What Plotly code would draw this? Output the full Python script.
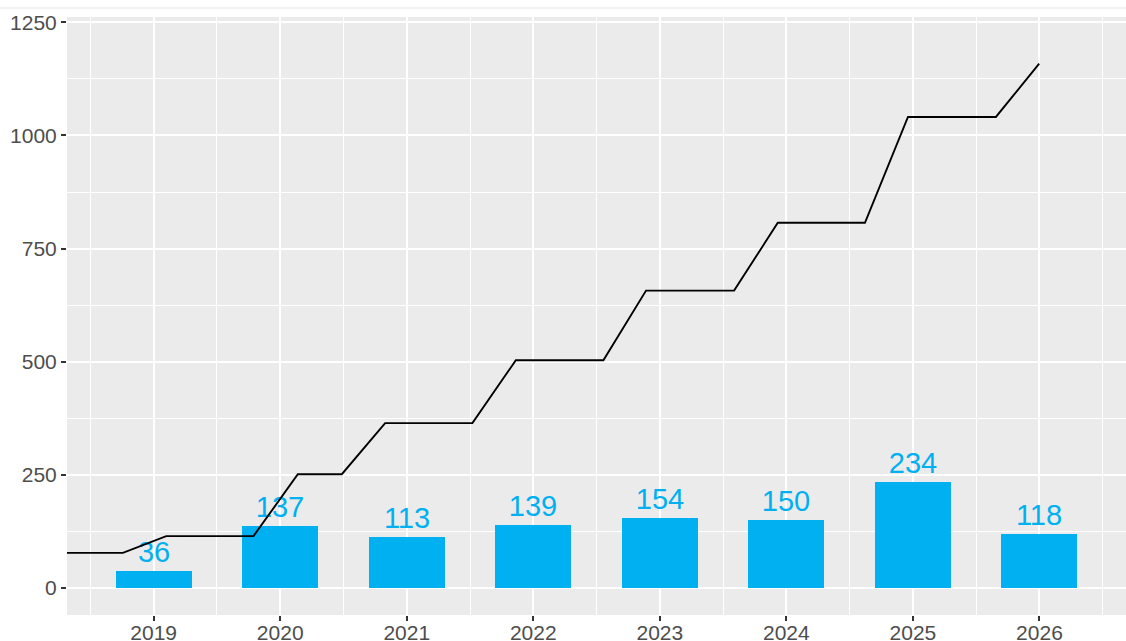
import plotly.graph_objects as go

# ---- data ----
years = [2019, 2020, 2021, 2022, 2023, 2024, 2025, 2026]
counts = [36, 137, 113, 139, 154, 150, 234, 118]

cum_x = [2018.315, 2018.757, 2019.099, 2019.789, 2020.139, 2020.487, 2020.829,
         2021.519, 2021.862, 2022.554, 2022.891, 2023.587, 2023.932, 2024.621,
         2024.961, 2025.656, 2025.998]
cum_y = [77, 77, 114, 114, 251, 251, 364, 364, 503, 503, 657, 657, 807, 807,
         1041, 1041, 1159]

y_ticks = [0, 250, 500, 750, 1000, 1250]
x_ticks = years

BAR_COLOR = "#00B0F0"
FONT = "Liberation Sans, Arial, Helvetica, sans-serif"

fig = go.Figure()

fig.add_trace(go.Bar(
    x=years, y=counts, width=0.6,
    marker=dict(color=BAR_COLOR, line=dict(width=0)),
    text=[str(v) for v in counts], textposition="outside",
    textfont=dict(family=FONT, size=29, color=BAR_COLOR),
    cliponaxis=False, showlegend=False, hoverinfo="skip",
))

fig.add_trace(go.Scatter(
    x=cum_x, y=cum_y, mode="lines",
    line=dict(color="black", width=1.9),
    showlegend=False, hoverinfo="skip",
))

fig.update_layout(
    width=1126, height=641,
    margin=dict(l=67, r=0, t=17, b=26, autoexpand=False),
    paper_bgcolor="white", plot_bgcolor="#EBEBEB",
    font=dict(family=FONT, size=21, color="#4D4D4D"),
    bargap=0,
    shapes=[dict(type="line", xref="paper", yref="paper",
                 x0=-0.07, x1=1.0, y0=1 + 9 / 598, y1=1 + 9 / 598,
                 line=dict(color="#E4E4E4", width=1))],
)

fig.update_xaxes(
    range=[2018.315, 2026.684], automargin=False,
    tickmode="array", tickvals=x_ticks, ticktext=[str(y) for y in x_ticks],
    ticks="outside", ticklen=5, tickwidth=1.5, tickcolor="#333333",
    ticklabelstandoff=-6,
    showgrid=True, gridcolor="white", gridwidth=1.6,
    minor=dict(tickmode="array", tickvals=[y - 0.5 for y in years] + [2026.5],
               showgrid=True, gridcolor="white", gridwidth=0.8),
    zeroline=False, showline=False,
    tickfont=dict(family=FONT, size=21, color="#4D4D4D"),
)

fig.update_yaxes(
    range=[-60.4, 1262], automargin=False,
    tickmode="array", tickvals=y_ticks, ticktext=[str(v) for v in y_ticks],
    ticks="outside", ticklen=5, tickwidth=1.5, tickcolor="#333333",
    showgrid=True, gridcolor="white", gridwidth=1.6,
    minor=dict(tickmode="array", tickvals=[125, 375, 625, 875, 1125],
               showgrid=True, gridcolor="white", gridwidth=0.8),
    zeroline=False, showline=False,
    tickfont=dict(family=FONT, size=21, color="#4D4D4D"),
)

fig.write_html(
    "out.html",
    config={"displayModeBar": False},
    post_script="document.body.style.margin='0';"
                "document.body.style.overflow='hidden';",
)
